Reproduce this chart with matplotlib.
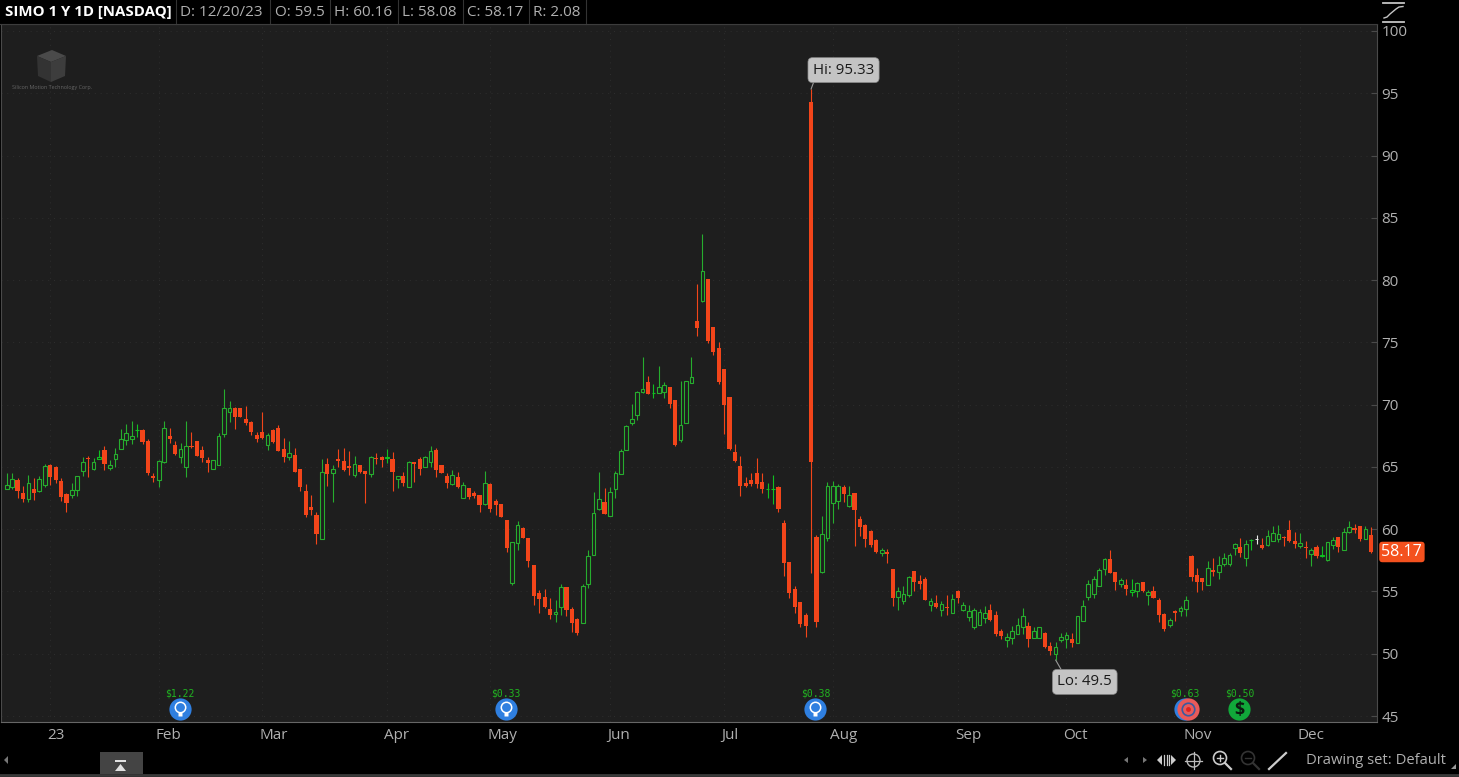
import matplotlib
matplotlib.use("Agg")
import matplotlib.pyplot as plt
import matplotlib.transforms as mtrans
from matplotlib.patches import Rectangle, Polygon, Circle

plt.rcParams['font.family'] = ['Open Sans', 'DejaVu Sans']

# ---------- data ----------
opens = [
63.26,63.42,63.95,62.91,62.43,63.23,63.10,63.52,65.16,64.97,
63.87,62.83,62.75,63.15,64.70,65.64,64.84,65.66,66.36,64.92,
65.66,66.44,67.16,67.24,67.94,67.97,67.11,64.27,63.98,65.42,
67.48,66.76,65.80,65.02,66.68,67.06,66.36,65.53,64.86,65.18,
67.64,69.38,69.76,69.71,68.82,68.61,67.56,67.78,66.76,67.94,
68.13,66.41,65.77,65.93,64.84,63.04,61.81,61.14,59.24,65.23,
64.53,65.52,65.47,65.07,64.35,65.15,64.64,64.43,65.69,65.77,
65.69,65.63,64.05,64.27,63.41,65.36,65.61,65.02,65.36,66.35,
65.15,64.27,63.65,64.19,62.50,63.28,62.90,62.71,62.05,63.62,
62.26,61.99,60.70,55.70,58.92,60.09,59.29,57.12,54.87,54.58,
53.59,53.16,53.72,55.33,53.59,52.76,52.49,55.57,57.95,61.59,
62.15,61.08,63.20,64.43,66.38,68.50,69.14,70.99,71.79,70.91,
70.96,71.04,71.39,70.34,67.16,68.55,71.76,76.71,78.29,80.09,
76.23,74.55,72.83,70.59,66.17,65.05,63.71,63.95,64.49,63.76,
63.20,63.20,63.41,60.50,57.34,55.23,54.13,53.11,94.30,59.35,
56.54,59.32,62.08,62.29,63.36,61.89,62.88,60.79,60.34,59.86,
59.13,58.09,58.17,56.81,54.56,54.26,54.75,56.62,55.87,56.00,
53.92,54.05,53.52,53.76,53.30,55.01,53.54,52.98,52.18,52.34,
52.85,53.52,53.11,51.83,51.08,51.29,51.62,52.18,52.26,51.29,
51.29,51.67,50.62,50.01,51.13,51.21,51.16,50.89,52.66,54.53,
54.77,55.46,56.83,57.58,56.53,55.60,55.52,54.98,55.06,55.76,
54.71,55.03,54.34,53.16,52.33,53.35,53.43,53.62,57.87,56.29,
56.05,55.54,56.64,56.59,57.20,57.23,58.51,58.54,57.71,59.10,
59.24,58.70,58.70,59.08,59.24,59.34,59.93,59.02,58.65,58.57,
58.03,58.57,57.82,57.50,58.73,59.37,58.35,59.77,60.07,60.23,
59.24,59.50]
highs = [
64.49,64.54,64.14,63.47,64.35,64.09,64.27,65.21,65.24,65.08,
64.09,62.88,63.68,64.27,65.83,65.88,65.69,66.36,66.68,65.56,
66.49,68.02,68.45,68.66,68.45,68.02,67.22,64.49,65.56,68.66,
68.15,67.11,66.90,68.69,67.83,67.11,66.68,65.83,65.56,67.75,
71.23,70.29,69.79,69.76,69.89,68.72,67.83,69.38,67.70,68.02,
68.37,67.30,67.08,66.49,64.84,63.63,62.75,61.38,65.61,65.74,
65.15,66.41,66.49,66.27,65.87,65.18,64.67,65.87,66.09,65.87,
66.41,66.22,64.27,64.61,65.47,65.39,65.82,65.87,66.68,66.49,
65.18,64.53,64.75,64.61,63.81,63.30,63.06,62.74,64.70,63.68,
62.39,62.02,60.73,59.00,60.68,60.20,59.32,57.15,55.12,55.17,
54.45,54.31,55.60,55.36,53.78,52.84,55.60,58.33,63.01,64.56,
63.28,63.41,64.70,66.41,68.37,70.05,71.12,73.85,72.30,71.66,
73.10,71.84,71.44,70.37,71.92,71.92,73.85,79.68,83.70,80.11,
76.26,75.06,72.86,70.64,66.84,65.88,64.16,64.49,65.74,64.49,
63.68,64.35,63.47,60.74,57.37,55.44,54.18,53.25,95.33,59.54,
61.06,63.79,63.90,63.63,63.55,63.47,62.93,61.06,60.42,59.94,
59.19,58.52,58.39,56.83,55.33,55.44,56.24,56.67,56.32,56.14,
54.45,54.69,54.26,54.69,54.80,55.12,54.18,53.92,53.65,53.57,
53.84,54.00,53.41,51.96,51.70,52.23,52.90,53.65,52.55,52.18,
52.18,51.72,50.97,50.92,51.64,51.78,51.64,53.01,54.32,55.92,
56.24,56.85,57.66,58.33,56.56,56.05,56.02,55.97,55.78,55.78,
55.11,55.44,54.50,53.24,52.84,53.51,53.83,54.63,57.90,56.85,
56.10,57.47,57.66,57.84,58.06,58.06,58.91,59.26,59.13,59.18,
59.53,59.32,59.93,60.25,60.33,59.45,60.73,59.74,59.72,59.05,
58.51,58.75,58.65,59.00,59.40,59.40,60.07,60.68,60.41,60.25,
60.25,60.16]
lows = [
63.26,63.26,62.53,62.16,62.21,62.35,63.02,63.36,63.52,63.68,
62.24,61.41,62.48,62.69,64.27,64.22,64.75,65.64,64.75,64.75,
64.97,66.44,66.76,66.84,67.43,66.84,64.35,63.76,63.42,65.29,
66.90,65.96,65.29,64.22,66.55,65.88,65.37,64.62,64.84,65.13,
67.43,68.63,68.05,68.98,68.37,67.56,66.98,67.27,66.36,66.90,
66.25,65.42,65.56,64.57,63.10,61.01,61.14,58.81,59.19,63.46,
62.21,64.96,64.70,64.35,64.16,64.48,62.07,64.16,65.20,65.02,
65.28,63.09,63.33,63.49,63.41,63.81,64.35,64.96,65.02,64.21,
64.48,63.33,63.54,63.28,62.47,62.39,62.47,61.40,61.94,61.38,
61.14,60.95,58.17,55.49,58.33,59.26,56.93,53.91,53.24,53.64,
52.81,52.57,53.08,53.03,51.77,51.50,52.44,55.25,57.93,61.54,
61.19,61.06,62.47,64.40,66.36,68.37,68.77,70.96,70.83,70.56,
70.91,70.51,69.76,66.71,66.97,68.52,71.71,75.51,78.27,74.92,
73.98,71.66,67.64,66.36,65.37,62.67,63.36,63.47,63.33,62.93,
62.53,62.02,61.35,56.27,54.50,53.30,52.17,51.32,56.46,52.18,
56.51,59.08,60.47,61.60,62.21,61.81,58.65,59.46,58.60,58.55,
58.12,57.85,57.26,53.84,53.52,54.00,54.53,55.07,55.17,54.32,
53.41,53.68,53.06,53.14,53.25,54.10,53.46,52.66,51.99,52.28,
52.44,52.63,51.45,51.16,50.52,50.79,51.56,51.59,50.57,51.27,
51.27,50.49,49.93,49.50,50.97,50.49,50.52,50.89,52.63,54.31,
54.45,55.44,56.32,56.45,55.11,55.38,54.71,54.63,54.58,54.98,
53.91,54.45,52.57,51.85,52.17,52.65,53.03,53.03,55.86,54.98,
55.11,55.52,56.24,56.00,57.07,57.07,57.92,57.79,57.04,58.33,
58.81,58.41,58.65,59.02,59.00,58.67,58.94,58.46,58.46,57.66,
57.04,57.66,57.79,57.44,58.38,58.19,58.33,59.66,59.66,59.08,
59.18,58.08]
closes = [
63.52,64.03,63.10,62.40,63.68,62.91,64.01,65.08,64.19,63.95,
62.61,62.11,63.12,64.25,65.37,65.60,65.42,65.77,65.24,65.16,
66.04,67.22,67.70,67.46,67.97,67.00,64.54,64.09,65.45,68.10,
67.24,66.04,66.41,66.68,66.57,65.88,65.72,65.32,65.53,67.48,
69.71,69.76,69.04,69.04,68.50,67.81,67.22,67.32,67.54,66.98,
66.28,65.83,66.09,64.59,63.36,61.12,61.54,59.62,64.57,64.43,
64.80,65.50,64.75,64.94,65.23,64.56,64.43,65.79,65.63,65.55,
65.77,64.59,64.24,63.68,65.39,65.26,64.83,65.79,66.25,64.75,
64.48,63.68,64.35,63.38,63.52,62.55,62.63,61.94,63.68,61.64,
61.97,60.98,58.49,58.97,60.31,59.32,57.47,54.66,54.42,53.72,
53.11,53.32,55.36,53.51,52.49,51.64,55.46,57.84,61.27,62.45,
61.22,62.98,64.48,66.28,68.28,68.82,71.04,71.23,70.88,70.96,
71.44,71.55,70.02,66.76,68.34,71.90,72.19,76.15,80.70,75.11,
74.23,71.79,70.00,66.44,65.45,63.49,63.47,63.60,63.63,63.23,
63.25,63.25,61.62,57.31,54.85,53.78,52.36,52.23,65.40,52.55,
59.59,63.47,63.47,63.47,62.83,62.72,61.54,60.18,59.22,58.73,
58.17,58.31,58.04,54.51,55.04,54.77,56.16,55.76,55.60,54.34,
54.21,53.76,54.00,53.65,54.40,54.48,53.89,53.41,53.49,53.33,
53.25,52.69,51.56,51.43,51.37,51.80,52.28,53.01,51.21,51.83,
52.12,50.54,50.25,50.52,51.35,51.53,50.89,53.01,53.81,55.60,
55.97,56.72,57.58,56.48,55.78,55.89,55.20,55.09,55.65,55.03,
54.93,54.50,53.13,51.98,52.68,53.30,53.64,54.29,56.16,55.76,
55.76,56.85,56.59,57.09,57.66,57.90,58.78,58.06,58.78,59.13,
59.24,58.49,59.42,59.66,59.58,59.26,59.08,58.81,58.86,58.46,
58.30,57.84,57.90,58.94,59.10,58.57,59.80,60.20,59.93,59.24,
59.99,58.17]

price_ticks = [45, 50, 55, 60, 65, 70, 75, 80, 85, 90, 95, 100]
month_labels = ['23', 'Feb', 'Mar', 'Apr', 'May', 'Jun', 'Jul', 'Aug', 'Sep', 'Oct', 'Nov', 'Dec']
month_starts = [8, 28, 47, 70, 89, 111, 132, 152, 175, 195, 217, 238]
header_items = ['D: 12/20/23', 'O: 59.5', 'H: 60.16', 'L: 58.08', 'C: 58.17', 'R: 2.08']
event_bars = [32, 92, 149, 217, 227]
event_labels = ['$1.22', '$0.33', '$0.38', '$0.63', '$0.50']
hi_bar, lo_bar = 148, 193

BG = '#1e1e1e'
RED = '#f2451a'
GREEN = '#26ad2e'
BRIGHT = '#10c020'
GRAY = '#b0b0b0'
W, H = 1459, 777

fig = plt.figure(figsize=(W / 100, H / 100), dpi=100, facecolor='black')
ax = fig.add_axes([1 / W, 1 - 722 / H, 1376 / W, 698 / H], facecolor=BG)
ax.set_xlim(-1.043, 252.13)
ax.set_ylim(44.52, 100.56)

# ---------- grid ----------
ax.set_yticks(price_ticks)
ax.set_xticks(month_starts)
ax.grid(True, color='#2e2e2e', lw=0.7, ls=(0, (1, 5)), zorder=0)

# ---------- candles ----------
n = len(opens)
for i in range(n):
    o, h, l, c = opens[i], highs[i], lows[i], closes[i]
    top, bot = max(o, c), min(o, c)
    if o == c:
        col = '#e8e8e8'
    elif c > o:
        col = GREEN if top - bot > 0.12 else BRIGHT
    else:
        col = RED
    ax.vlines(i, l, h, color=col, lw=0.8, zorder=2)
    if o == c:
        ax.hlines(o, i - 0.3, i + 0.3, color=col, lw=0.72, zorder=3)
    elif c > o:
        ax.bar(i, top - bot, bottom=bot, width=0.68, facecolor=BG, edgecolor=col, lw=0.8, zorder=3)
    else:
        ax.bar(i, max(top - bot, 0.1), bottom=bot, width=0.76, facecolor=col, edgecolor='none', zorder=3)

# ---------- axes ----------
for s in ax.spines.values():
    s.set_color('#4a4a4a')
    s.set_linewidth(0.8)
ax.spines['bottom'].set_color('#666666')
ax.yaxis.tick_right()
ax.tick_params(axis='y', direction='in', length=4, width=0.8, color='#4a4a4a',
               labelcolor=GRAY, labelsize=11, pad=3)
ax.tick_params(axis='x', length=0, labelcolor=GRAY, labelsize=11, pad=4.2)
ax.set_xticklabels(month_labels, ha='left')
for lab in ax.get_xticklabels():
    lab.set_transform(lab.get_transform() + mtrans.ScaledTranslation(-3 / 100, 0, fig.dpi_scale_trans))

# ---------- last price ----------
right_tr = mtrans.blended_transform_factory(ax.transAxes, ax.transData)
ax.text(1.0 + 4.5 / 1376, closes[-1], f'{closes[-1]:.2f}', transform=right_tr, ha='left', va='center',
        color='white', fontsize=11.6, clip_on=False, zorder=6,
        bbox=dict(boxstyle='round,pad=0.14,rounding_size=0.2', fc='#f4511e', ec='none'))

# ---------- hi / lo callouts ----------
ax.annotate(f'Hi: {highs[hi_bar]:.2f}', xy=(hi_bar, highs[hi_bar]), xytext=(23.4, 13.7), textcoords='offset points',
            ha='center', va='center', color='#1a1a1a', fontsize=10.8, zorder=7,
            bbox=dict(boxstyle='round,pad=0.33,rounding_size=0.3', fc='#c4c4c4', ec='#888888', lw=0.5),
            arrowprops=dict(arrowstyle='-', color='#999999', lw=0.8, shrinkA=0, shrinkB=0, relpos=(0.04, 0)))
ax.annotate(f'Lo: {lows[lo_bar]:g}', xy=(lo_bar, lows[lo_bar]), xytext=(21, -15.8), textcoords='offset points',
            ha='center', va='center', color='#1a1a1a', fontsize=10.8, zorder=7,
            bbox=dict(boxstyle='round,pad=0.33,rounding_size=0.3', fc='#c4c4c4', ec='#888888', lw=0.5),
            arrowprops=dict(arrowstyle='-', color='#999999', lw=0.8, shrinkA=0, shrinkB=0, relpos=(0.12, 1)))

# ---------- events ----------
ev_tr = mtrans.blended_transform_factory(ax.transData, ax.transAxes)
ICON_Y = 1 - (709 - 24) / 698
TEXT_Y = 1 - (693 - 24) / 698

def off(dx, dy):
    return ev_tr + mtrans.ScaledTranslation((dx - 1) / 100, dy / 100, fig.dpi_scale_trans)

def mark(x, dx, dy, **kw):
    ax.plot([x], [ICON_Y], transform=off(dx, dy), clip_on=False, zorder=5, ls='none', **kw)

for x, label in zip(event_bars, event_labels):
    ax.text(x, TEXT_Y, label, transform=off(0, 0), ha='center', va='center', color='#21b421',
            fontsize=7, family='DejaVu Sans Mono', zorder=5)
    if label == '$0.50':
        mark(x, 0, 0, marker='o', ms=16, mfc='#11a83a', mec='none')
        ax.text(x, ICON_Y, '$', transform=off(0, -0.5), ha='center', va='center', color='#0c1a10',
                fontsize=13, fontweight='bold', zorder=6)
    else:
        mark(x, 0, 0, marker='o', ms=16, mfc='#2f7fe0', mec='none')
        if label == '$0.63':
            mark(x, 3, 0, marker='o', ms=16, mfc='#e85a5a', mec='none')
            mark(x, 3, 0, marker='o', ms=9, mfc='none', mec='#3a5aa0', mew=1.2)
            mark(x, 3, 0, marker='o', ms=3.5, mfc='#e02020', mec='none')
        else:
            mark(x, 0, 2.5, marker='o', ms=7.5, mfc='none', mec='white', mew=1.1)
            mark(x, 0, -5, marker='s', ms=3, mfc='white', mec='none')

# ---------- chrome overlay in pixel coordinates ----------
ui = fig.add_axes([0, 0, 1, 1], facecolor='none')
ui.set_xlim(0, W)
ui.set_ylim(H, 0)
ui.axis('off')

ui.add_patch(Rectangle((0, 0), W, 24, fc='black', ec='none'))
for sx in [176, 270, 330, 398, 463, 529, 586]:
    ui.plot([sx, sx], [0, 24], color='#333333', lw=0.8)
ui.plot([0, 1377], [24, 24], color='#3c3c3c', lw=0.8)
ui.text(5, 12, 'SIMO 1 Y 1D [NASDAQ]', color='white', fontsize=10.8, fontweight='bold', va='center', ha='left')
for hx, t in zip([180, 275, 334, 402, 467, 533], header_items):
    ui.text(hx, 12, t, color=GRAY, fontsize=11, va='center', ha='left')

# study icon, top right
ui.plot([1383, 1404], [2.7, 2.7], color='#c4c4c4', lw=1.3)
ui.plot([1383, 1404], [21.7, 21.7], color='#c4c4c4', lw=1.3)
ui.plot([1384, 1387, 1390, 1393, 1396, 1399, 1403],
        [18, 17, 14, 11.5, 9, 7, 6.5], color='#c4c4c4', lw=1)

# logo
ui.add_patch(Polygon([(37, 56), (52, 50), (66, 56), (51, 62)], fc='#4a4a4a', ec='none'))
ui.add_patch(Polygon([(37, 56), (51, 62), (51, 82), (38, 76)], fc='#333333', ec='none'))
ui.add_patch(Polygon([(51, 62), (66, 56), (65, 76), (51, 82)], fc='#3d3d3d', ec='none'))
ui.text(52, 87, 'Silicon Motion Technology Corp.', color='#666666', fontsize=3.9, ha='center', va='center')

# bottom bar
ui.plot([0, W], [774.5, 774.5], color='#3a3a3a', lw=2)
ui.add_patch(Rectangle((100, 752), 43, 21.5, fc='#444444', ec='none'))
ui.add_patch(Polygon([(115, 771), (126, 771), (120.5, 764)], fc='#e0e0e0', ec='none'))
ui.add_patch(Rectangle((115, 760), 11, 2, fc='#e0e0e0', ec='none'))
ui.add_patch(Polygon([(8, 756), (8, 764), (4, 760)], fc='#777777', ec='none'))
ui.add_patch(Polygon([(1128, 757), (1128, 763), (1124, 760)], fc='#777777', ec='none'))
ui.add_patch(Polygon([(1143, 757), (1143, 763), (1147, 760)], fc='#777777', ec='none'))
ui.add_patch(Polygon([(1162, 755), (1162, 765), (1157, 760)], fc='#cccccc', ec='none'))
ui.add_patch(Polygon([(1171, 755), (1171, 765), (1176, 760)], fc='#cccccc', ec='none'))
for bx in [1164, 1166.5, 1169]:
    ui.plot([bx, bx], [755, 765], color='#cccccc', lw=0.9)
ui.add_patch(Circle((1193.5, 760.5), 6.5, fc='none', ec='#bbbbbb', lw=1))
ui.plot([1185, 1202], [760.5, 760.5], color='#bbbbbb', lw=0.9)
ui.plot([1193.5, 1193.5], [752, 769], color='#bbbbbb', lw=0.9)
ui.add_patch(Circle((1220, 758), 6.5, fc='none', ec='#cccccc', lw=1.2))
ui.plot([1225, 1231], [763, 769], color='#cccccc', lw=1.6)
ui.plot([1217, 1223], [758, 758], color='#cccccc', lw=1)
ui.plot([1220, 1220], [755, 761], color='#cccccc', lw=1)
ui.add_patch(Circle((1248, 758), 6.5, fc='none', ec='#333333', lw=1.2))
ui.plot([1253, 1259], [763, 769], color='#333333', lw=1.6)
ui.plot([1245, 1251], [758, 758], color='#333333', lw=1)
ui.plot([1269, 1286], [769, 753], color='#cccccc', lw=1.6)
ui.text(1306, 760, 'Drawing set: Default', color=GRAY, fontsize=10.6, va='center', ha='left')
ui.add_patch(Polygon([(1456, 764), (1456, 769), (1451, 769)], fc='#999999', ec='none'))

fig.savefig('out.png', dpi=100, facecolor='black')
